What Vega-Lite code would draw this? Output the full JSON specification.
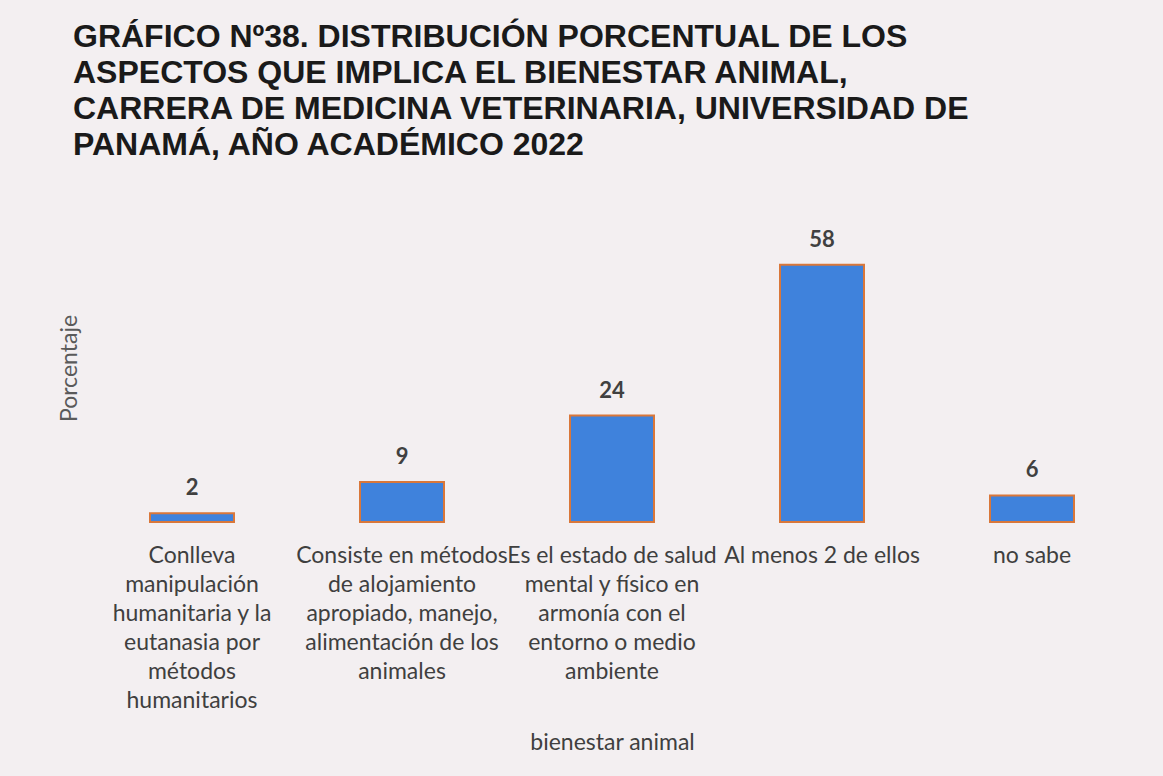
{
  "$schema": "https://vega.github.io/schema/vega-lite/v6.json",
  "width": 1050,
  "height": 266,
  "autosize": "none",
  "padding": {"left": 87, "top": 256, "right": 26, "bottom": 254},
  "background": "#f3eff1",
  "title": {
    "text": ["GRÁFICO Nº38. DISTRIBUCIÓN PORCENTUAL DE LOS", "ASPECTOS QUE IMPLICA EL BIENESTAR ANIMAL,", "CARRERA DE MEDICINA VETERINARIA, UNIVERSIDAD DE", "PANAMÁ, AÑO ACADÉMICO 2022"],
    "anchor": "start",
    "frame": "group",
    "dx": -14,
    "offset": 67,
    "font": "Liberation Sans",
    "fontSize": 32,
    "fontWeight": "bold",
    "color": "#1a1a1a",
    "lineHeight": 36
  },
  "data": {
    "values": [
      {"aspecto": "Conlleva|manipulación|humanitaria y la|eutanasia por|métodos|humanitarios", "orden": 1, "porcentaje": 2},
      {"aspecto": "Consiste en métodos|de alojamiento|apropiado, manejo,|alimentación de los|animales", "orden": 2, "porcentaje": 9},
      {"aspecto": "Es el estado de salud|mental y físico en|armonía con el|entorno o medio|ambiente", "orden": 3, "porcentaje": 24},
      {"aspecto": "Al menos 2 de ellos", "orden": 4, "porcentaje": 58},
      {"aspecto": "no sabe", "orden": 5, "porcentaje": 6}
    ]
  },
  "encoding": {
    "x": {
      "field": "aspecto",
      "type": "nominal",
      "sort": {"field": "orden"},
      "scale": {"paddingInner": 0.6, "paddingOuter": 0.3},
      "axis": {
        "title": "bienestar animal",
        "titleFont": "Lato",
        "titleFontSize": 23,
        "titleFontWeight": "normal",
        "titleColor": "#3f3f3f",
        "titlePadding": 19,
        "labelAngle": 0,
        "labelExpr": "split(datum.label, '|')",
        "labelFont": "Lato",
        "labelFontSize": 23,
        "labelColor": "#3f3f3f",
        "labelLineHeight": 29,
        "labelPadding": 22,
        "labelLimit": 0,
        "labelOverlap": false,
        "labelBound": false,
        "domain": false,
        "ticks": false,
        "grid": false
      }
    },
    "y": {
      "field": "porcentaje",
      "type": "quantitative",
      "scale": {"domain": [0, 60]},
      "axis": {
        "title": "Porcentaje",
        "titleFont": "Lato",
        "titleFontSize": 23,
        "titleFontWeight": "normal",
        "titleColor": "#5a5a5a",
        "titlePadding": 6,
        "titleY": 112,
        "labels": false,
        "ticks": false,
        "domain": false,
        "grid": false
      }
    }
  },
  "layer": [
    {
      "mark": {"type": "bar", "fill": "#3f82dc", "stroke": "#d9773a", "strokeWidth": 2}
    },
    {
      "mark": {"type": "text", "font": "Lato", "fontSize": 22, "fontWeight": "bold", "color": "#404040", "baseline": "middle", "dy": -25},
      "encoding": {"text": {"field": "porcentaje", "type": "quantitative"}}
    }
  ],
  "config": {"view": {"stroke": null}}
}
